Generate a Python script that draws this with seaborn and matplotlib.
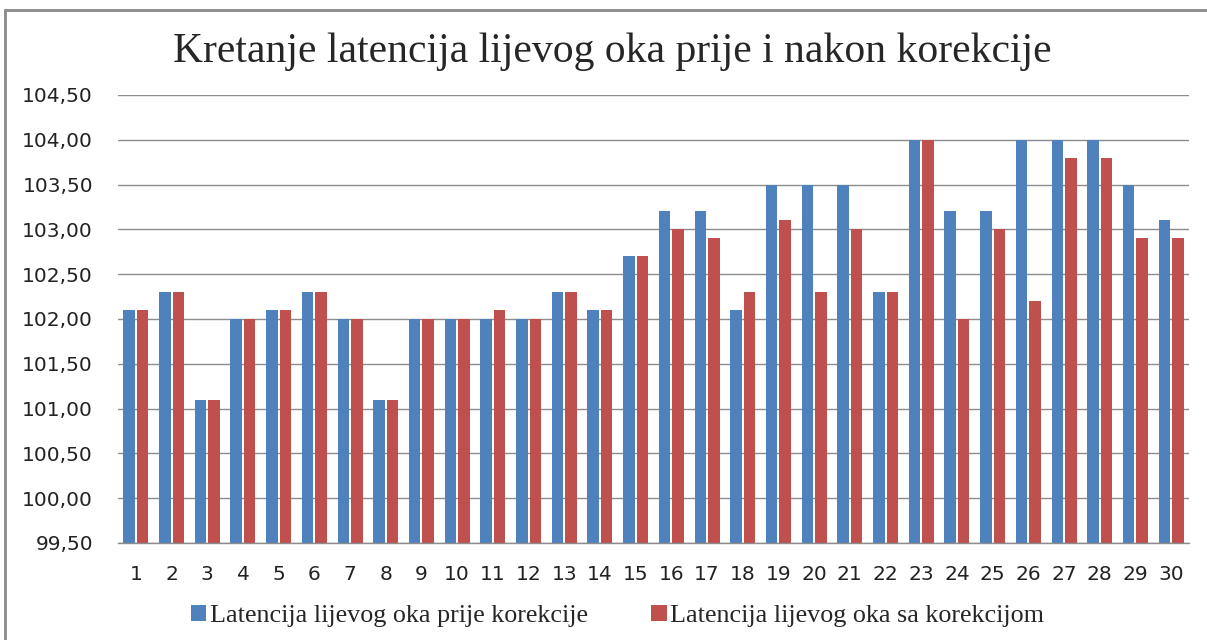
import pandas as pd
import seaborn as sns
import matplotlib.pyplot as plt
from matplotlib.lines import Line2D
from matplotlib.ticker import FuncFormatter

# Data
mjerenja = [str(i) for i in range(1, 31)]
prije = [102.1, 102.3, 101.1, 102.0, 102.1, 102.3, 102.0, 101.1, 102.0, 102.0,
         102.0, 102.0, 102.3, 102.1, 102.7, 103.2, 103.2, 102.1, 103.5, 103.5,
         103.5, 102.3, 104.0, 103.2, 103.2, 104.0, 104.0, 104.0, 103.5, 103.1]
sa_korekcijom = [102.1, 102.3, 101.1, 102.0, 102.1, 102.3, 102.0, 101.1, 102.0, 102.0,
                 102.1, 102.0, 102.3, 102.1, 102.7, 103.0, 102.9, 102.3, 103.1, 102.3,
                 103.0, 102.3, 104.0, 102.0, 103.0, 102.2, 103.8, 103.8, 102.9, 102.9]
serije = ["Latencija lijevog oka prije korekcije", "Latencija lijevog oka sa korekcijom"]
yticks = [99.5, 100.0, 100.5, 101.0, 101.5, 102.0, 102.5, 103.0, 103.5, 104.0, 104.5]

df = pd.DataFrame({
    "mjerenje": mjerenja * 2,
    "latencija": prije + sa_korekcijom,
    "serija": [serije[0]] * 30 + [serije[1]] * 30,
})

sns.set_style("white")
plt.rcParams["font.family"] = ["DejaVu Sans"]

fig = plt.figure(figsize=(12.07, 6.40), dpi=100)
ax = fig.add_axes([118 / 1207, 1 - 543 / 640, (1189 - 118) / 1207, (543 - 95) / 640])

colors = ["#4F81BD", "#C0504D"]
sns.barplot(data=df, x="mjerenje", y="latencija", hue="serija", order=mjerenja,
            hue_order=serije, palette=colors, width=0.76, gap=0.15,
            saturation=1, linewidth=0, ax=ax, legend=True)

ax.set_ylim(99.5, 104.5)
ax.set_yticks(yticks)
ax.yaxis.set_major_formatter(FuncFormatter(lambda v, p: f"{v:.2f}".replace(".", ",")))
ax.set_xlim(-0.5, 29.5)
ax.grid(axis="y", color="#8c8c8c", linewidth=1)
ax.set_axisbelow(True)
for s in ["top", "right", "left"]:
    ax.spines[s].set_visible(False)
ax.spines["bottom"].set_color("#8c8c8c")
ax.spines["bottom"].set_linewidth(1)
ax.tick_params(axis="y", length=0, pad=18, labelsize=14.5, labelcolor="#222222")
ax.tick_params(axis="x", length=0, pad=16, labelsize=14.5, labelcolor="#222222")
ax.set_xlabel("")
ax.set_ylabel("")

# legend at the bottom, serif like the original
handles, labels = ax.get_legend_handles_labels()
ax.legend_.remove()
fig.legend(handles, labels, loc="center", bbox_to_anchor=(0.5116, 1 - 616 / 640),
           ncol=2, frameon=False, handlelength=0.6, handleheight=0.6,
           handletextpad=0.15, columnspacing=2.4,
           prop={"family": "Liberation Serif", "size": 18.8})

fig.text(0.507, 1 - 52 / 640, "Kretanje latencija lijevog oka prije i nakon korekcije",
         ha="center", va="center", family="Liberation Serif", fontsize=30)

# chart frame (only top and left edges visible in the original)
fig.add_artist(Line2D([5 / 1207, 5 / 1207], [0, 1 - 10 / 640], transform=fig.transFigure,
                      color="#8a8a8a", linewidth=2))
fig.add_artist(Line2D([5 / 1207, 1], [1 - 10 / 640, 1 - 10 / 640], transform=fig.transFigure,
                      color="#8a8a8a", linewidth=2))

fig.savefig("out.png", dpi=100)
